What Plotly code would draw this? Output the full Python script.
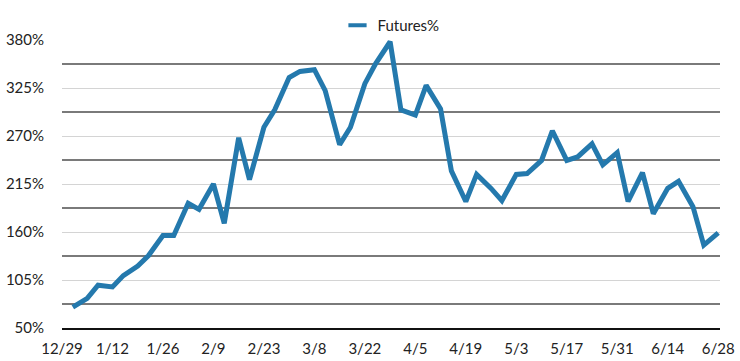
import plotly.graph_objects as go

# Observation dates (Tue/Fri, 2016)
dates = [
    "2016-01-01", "2016-01-05", "2016-01-08", "2016-01-12", "2016-01-15", "2016-01-19",
    "2016-01-22", "2016-01-26", "2016-01-29", "2016-02-02", "2016-02-05", "2016-02-09",
    "2016-02-12", "2016-02-16", "2016-02-19", "2016-02-23", "2016-02-26", "2016-03-01",
    "2016-03-04", "2016-03-08", "2016-03-11", "2016-03-15", "2016-03-18", "2016-03-22",
    "2016-03-25", "2016-03-29", "2016-04-01", "2016-04-05", "2016-04-08", "2016-04-12",
    "2016-04-15", "2016-04-19", "2016-04-22", "2016-04-26", "2016-04-29", "2016-05-03",
    "2016-05-06", "2016-05-10", "2016-05-13", "2016-05-17", "2016-05-20", "2016-05-24",
    "2016-05-27", "2016-05-31", "2016-06-03", "2016-06-07", "2016-06-10", "2016-06-14",
    "2016-06-17", "2016-06-21", "2016-06-24", "2016-06-28",
]

futures_pct = [
    74, 84, 99, 97, 110, 121, 133, 156, 156, 193, 186, 215,
    170, 268, 220, 280, 300, 337, 344, 346, 322, 260, 280, 330,
    353, 378, 300, 294, 328, 301, 230, 195, 226, 210, 196, 226,
    227, 242, 276, 242, 246, 261, 237, 251, 195, 228, 181, 210,
    218, 189, 145, 159,
]

series_name = "Futures%"

x_start = "2015-12-29"
x_end = "2016-06-28 12:00"
y_min, y_max, y_step = 50, 380, 55

FONT = "Lato, 'Open Sans', sans-serif"
LINE_BLUE = "#2479ad"
TXT = "#222222"

fig = go.Figure()
fig.add_trace(go.Scatter(
    x=dates, y=futures_pct, mode="lines", name=series_name,
    line=dict(color=LINE_BLUE, width=5), showlegend=False,
))
# legend entry (short line sample, as in the original)
fig.add_trace(go.Scatter(
    x=[None], y=[None], mode="markers", name=series_name,
    marker=dict(symbol="line-ew", size=13, color=LINE_BLUE,
                line=dict(color=LINE_BLUE, width=4)),
    showlegend=True,
))

fig.update_layout(
    width=740, height=361,
    margin=dict(l=62, r=20, t=40, b=33, autoexpand=False),
    paper_bgcolor="white", plot_bgcolor="white",
    font=dict(family=FONT, size=15, color=TXT),
    showlegend=True,
    legend=dict(orientation="h", x=0.5, xanchor="center",
                yref="container", y=1 - 9 / 361, yanchor="top",
                font=dict(size=15, color=TXT), itemwidth=30,
                bgcolor="rgba(0,0,0,0)"),
    xaxis=dict(
        type="date", range=[x_start, x_end], automargin=False,
        tick0=x_start, dtick=14 * 86400000, tickformat="%-m/%-d",
        showgrid=False, zeroline=False,
        showline=True, linecolor="#111111", linewidth=2,
        ticks="", ticklabelstandoff=6,
        tickfont=dict(size=15, color=TXT),
    ),
    yaxis=dict(
        range=[y_min, y_max], tick0=y_min, dtick=y_step, automargin=False,
        ticksuffix="%", showgrid=True, gridcolor="#d4d4d4", gridwidth=1,
        zeroline=False, showline=False, ticks="", ticklabelstandoff=17,
        tickfont=dict(size=15, color=TXT),
        minor=dict(tick0=y_min + y_step / 2, dtick=y_step, showgrid=True,
                   gridcolor="#7a7a7a", gridwidth=1.5, ticks=""),
    ),
)

fig.write_html("out.html", config={"displayModeBar": False},
               post_script="document.body.style.margin='0px';")
